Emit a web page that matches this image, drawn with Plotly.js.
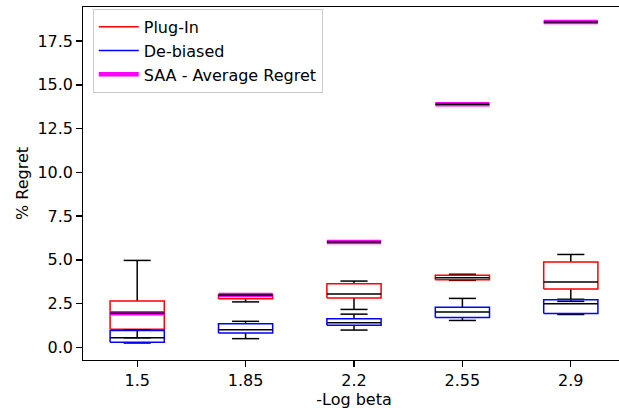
<!DOCTYPE html>
<html>
<head>
<meta charset="utf-8">
<script src="https://cdn.plot.ly/plotly-3.0.1.min.js"></script>
<style>html,body{margin:0;padding:0;overflow:hidden;background:#fff}</style>
</head>
<body>
<div id="chart"></div>
<script>
// Categories (x tick labels)
const categories = ['1.5', '1.85', '2.2', '2.55', '2.9'];

// Plug-In box statistics (% regret)
const plugMin = [0.55, 2.60, 2.17, 3.83, 2.63];
const plugQ1  = [1.03, 2.78, 2.82, 3.86, 3.33];
const plugMed = [1.94, 2.92, 3.05, 3.98, 3.73];
const plugQ3  = [2.65, 3.00, 3.64, 4.12, 4.88];
const plugMax = [4.97, 3.05, 3.79, 4.18, 5.31];

// De-biased box statistics (% regret)
const debMin = [0.25, 0.50, 0.99, 1.54, 1.88];
const debQ1  = [0.30, 0.82, 1.26, 1.71, 1.94];
const debMed = [0.55, 1.01, 1.41, 2.02, 2.50];
const debQ3  = [0.97, 1.35, 1.64, 2.30, 2.72];
const debMax = [1.00, 1.49, 1.90, 2.80, 2.75];

// SAA - Average Regret
const saaAvg = [1.95, 3.00, 6.02, 13.89, 18.60];

const HALF = 0.25, CAP = 0.125;
const LW = 1.5;

function boxTraces(mins, q1s, meds, q3s, maxs, color, name) {
  const wx = [], wy = [], bx = [], by = [], mx = [], my = [];
  for (let i = 0; i < categories.length; i++) {
    wx.push(i, i, null, i, i, null);
    wy.push(q1s[i], mins[i], null, q3s[i], maxs[i], null);
    wx.push(i - CAP, i + CAP, null, i - CAP, i + CAP, null);
    wy.push(mins[i], mins[i], null, maxs[i], maxs[i], null);
    bx.push(i - HALF, i + HALF, i + HALF, i - HALF, i - HALF, null);
    by.push(q1s[i], q1s[i], q3s[i], q3s[i], q1s[i], null);
    mx.push(i - HALF, i + HALF, null);
    my.push(meds[i], meds[i], null);
  }
  return [
    {x: wx, y: wy, type: 'scatter', mode: 'lines', line: {color: 'black', width: LW}, showlegend: false, hoverinfo: 'skip'},
    {x: bx, y: by, type: 'scatter', mode: 'lines', line: {color: color, width: LW}, name: name, showlegend: true, hoverinfo: 'skip'},
    {x: mx, y: my, type: 'scatter', mode: 'lines', line: {color: 'black', width: LW}, showlegend: false, hoverinfo: 'skip'}
  ];
}

const traces = [];
traces.push(...boxTraces(plugMin, plugQ1, plugMed, plugQ3, plugMax, '#ff0000', 'Plug-In'));
traces.push(...boxTraces(debMin, debQ1, debMed, debQ3, debMax, '#0000ff', 'De-biased'));

const sx = [], sy = [];
for (let i = 0; i < categories.length; i++) {
  sx.push(i - HALF, i + HALF, null);
  sy.push(saaAvg[i], saaAvg[i], null);
}
traces.push({x: sx, y: sy, type: 'scatter', mode: 'lines', line: {color: '#ff00ff', width: 4.5}, name: 'SAA - Average Regret', showlegend: true, hoverinfo: 'skip'});
traces.push({x: sx, y: sy, type: 'scatter', mode: 'lines', line: {color: 'black', width: LW}, showlegend: false, hoverinfo: 'skip'});

const font = {family: 'DejaVu Sans, sans-serif', size: 16, color: '#000'};

const layout = {
  width: 628, height: 410,
  margin: {l: 83, r: 3, t: 7, b: 50},
  paper_bgcolor: '#fff', plot_bgcolor: '#fff',
  font: font,
  showlegend: true,
  legend: {
    x: 0.018, y: 0.995, xanchor: 'left', yanchor: 'top',
    itemwidth: 40,
    bgcolor: 'rgba(255,255,255,0.8)', bordercolor: '#cccccc', borderwidth: 1,
    font: font
  },
  xaxis: {
    range: [-0.5, 4.5],
    tickmode: 'array', tickvals: categories.map((c, i) => i), ticktext: categories,
    showgrid: false, zeroline: false,
    showline: true, linecolor: '#000', linewidth: 1.3, mirror: true,
    ticks: 'outside', ticklen: 5.5, tickwidth: 1.3, tickcolor: '#000',
    title: {text: '-Log beta', font: font, standoff: 4}
  },
  yaxis: {
    range: [-0.72, 19.45],
    tickmode: 'linear', tick0: 0, dtick: 2.5, tickformat: '.1f',
    showgrid: false, zeroline: false,
    showline: true, linecolor: '#000', linewidth: 1.3, mirror: true,
    ticks: 'outside', ticklen: 5.5, tickwidth: 1.3, tickcolor: '#000',
    title: {text: '% Regret', font: font, standoff: 4}
  }
};

Plotly.newPlot('chart', traces, layout, {displayModeBar: false, staticPlot: true});
</script>
</body>
</html>
